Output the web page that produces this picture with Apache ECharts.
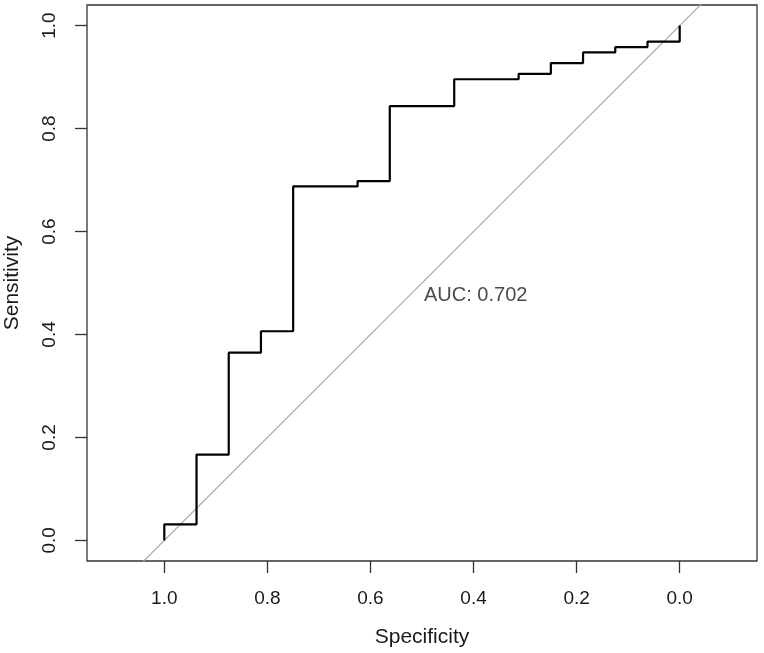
<!DOCTYPE html>
<html>
<head>
<meta charset="utf-8">
<script src="https://cdn.jsdelivr.net/npm/echarts@6/dist/echarts.min.js"></script>
<style>html,body{margin:0;padding:0;background:#fff}#c{width:764px;height:653px}</style>
</head>
<body>
<div id="c"></div>
<script>
// ROC curve corner points (specificity, sensitivity)
var specificity = [1, 1, 0.9375, 0.9375, 0.875, 0.875, 0.8125, 0.8125, 0.75, 0.75, 0.625, 0.625, 0.5625, 0.5625, 0.4375, 0.4375, 0.3125, 0.3125, 0.25, 0.25, 0.1875, 0.1875, 0.125, 0.125, 0.0625, 0.0625, 0, 0];
var sensitivity = [0, 0.03125, 0.03125, 0.1667, 0.1667, 0.3646, 0.3646, 0.40625, 0.40625, 0.6875, 0.6875, 0.6979, 0.6979, 0.84375, 0.84375, 0.8958, 0.8958, 0.90625, 0.90625, 0.9271, 0.9271, 0.9479, 0.9479, 0.9583, 0.9583, 0.96875, 0.96875, 1];
var diagSpec = [1.3, -0.3];
var diagSens = [-0.3, 1.3];
var tickValues = [0, 0.2, 0.4, 0.6, 0.8, 1.0];
var aucText = 'AUC: 0.702';
var aucPos = [0.5, 0.5];

var font = 'Liberation Sans, Arial, Helvetica, sans-serif';
var chart = echarts.init(document.getElementById('c'));
chart.setOption({
  animation: false,
  backgroundColor: '#fff',
  grid: { left: 87, right: 7, top: 5, bottom: 92, outerBoundsMode: 'none', containLabel: false, show: true, borderColor: '#333', borderWidth: 1.3, backgroundColor: 'transparent' },
  xAxis: {
    type: 'value', inverse: true, min: -0.15, max: 1.15,
    name: 'Specificity', nameLocation: 'middle', nameGap: 66,
    nameTextStyle: { fontFamily: font, fontSize: 21, color: '#1a1a1a' },
    axisLine: { show: false, onZero: false },
    splitLine: { show: false },
    axisTick: { show: true, customValues: tickValues, length: 12, inside: false, lineStyle: { color: '#333', width: 1.3 } },
    axisLabel: { customValues: tickValues, margin: 28, fontFamily: font, fontSize: 19, color: '#1a1a1a', formatter: function (v) { return v.toFixed(1); } }
  },
  yAxis: {
    type: 'value', min: -0.04, max: 1.04,
    name: 'Sensitivity', nameLocation: 'middle', nameGap: 64,
    nameTextStyle: { fontFamily: font, fontSize: 21, color: '#1a1a1a' },
    axisLine: { show: false, onZero: false },
    splitLine: { show: false },
    axisTick: { show: true, customValues: tickValues, length: 12, lineStyle: { color: '#333', width: 1.3 } },
    axisLabel: { customValues: tickValues, rotate: 90, margin: 28, fontFamily: font, fontSize: 19, color: '#1a1a1a', formatter: function (v) { return v.toFixed(1); } }
  },
  series: [
    {
      type: 'line', data: diagSpec.map(function (s, i) { return [s, diagSens[i]]; }),
      symbol: 'none', clip: true, lineStyle: { color: '#aaaaaa', width: 1.2 }, silent: true
    },
    {
      type: 'line', data: specificity.map(function (s, i) { return [s, sensitivity[i]]; }),
      symbol: 'none', clip: true, lineStyle: { color: '#000', width: 2.2 }, z: 3
    },
    {
      type: 'scatter', data: [aucPos], symbolSize: 0, silent: true,
      label: { show: true, formatter: aucText, position: [2, 2], align: 'left', verticalAlign: 'top', fontFamily: font, fontSize: 20, color: '#1a1a1a' }
    }
  ]
});
</script>
</body>
</html>
